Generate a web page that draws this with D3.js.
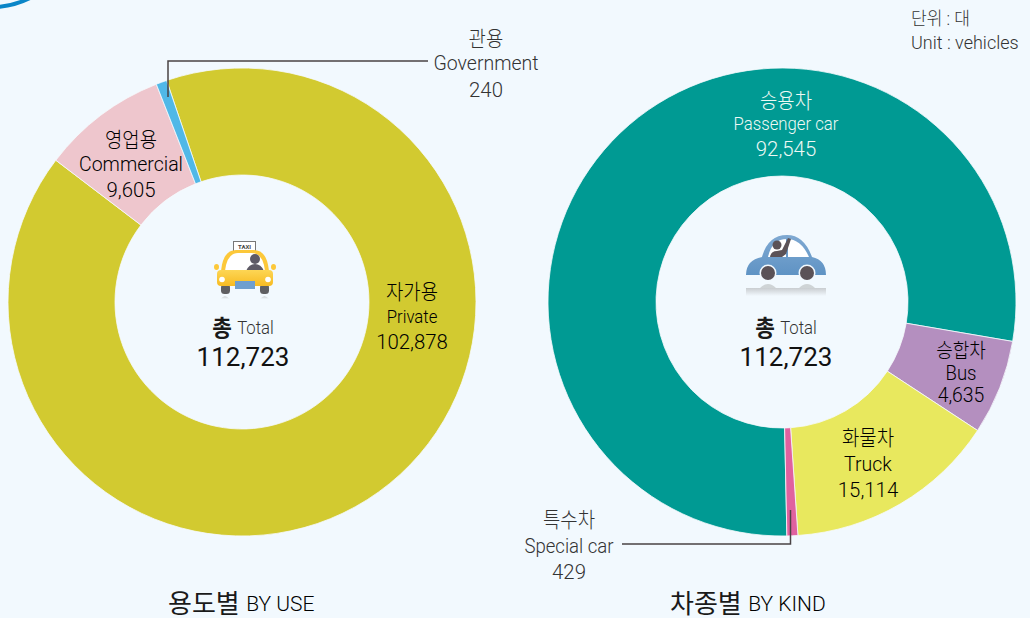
<!DOCTYPE html>
<html>
<head>
<meta charset="utf-8">
<script src="https://cdn.jsdelivr.net/npm/d3@7"></script>
<style>
  html, body { margin: 0; padding: 0; background: #f2f9fe; }
  text { font-family: "Roboto", "Noto Sans CJK KR", sans-serif; fill: #1a1a1a; }
</style>
</head>
<body>
<div id="chart"></div>
<script>
// Values printed on the chart, in clockwise slice order
const useKorean = ["자가용", "영업용", "관용"];
const useEnglish = ["Private", "Commercial", "Government"];
const useValues = [102878, 9605, 240];
const kindKorean = ["승용차", "승합차", "화물차", "특수차"];
const kindEnglish = ["Passenger car", "Bus", "Truck", "Special car"];
const kindValues = [92545, 4635, 15114, 429];
const totalValue = 112723;

// The reference does not draw its slices to scale, so the sweeps (degrees)
const useSweeps = [328.8, 31.5, 2.7];
const kindSweeps = [280.9, 23.6, 52.8, 2.7];

const useColors = ["#d2ca30", "#eec6cd", "#50b8e7"];
const kindColors = ["#009a93", "#b48fbf", "#e8e85e", "#e0619f"];

const width = 1030, height = 618;
const fmt = d3.format(",");

const svg = d3.select("#chart").append("svg")
    .attr("width", width)
    .attr("height", height)
    .style("display", "block");

const defs = svg.append("defs");
const taxiGrad = defs.append("linearGradient").attr("id", "taxiBody").attr("x1", 0).attr("x2", 0).attr("y1", 0).attr("y2", 1);
taxiGrad.append("stop").attr("offset", 0).attr("stop-color", "#fdd655");
taxiGrad.append("stop").attr("offset", 1).attr("stop-color", "#f7bb22");
const carGrad = defs.append("linearGradient").attr("id", "carBody").attr("x1", 0).attr("x2", 0).attr("y1", 0).attr("y2", 1);
carGrad.append("stop").attr("offset", 0).attr("stop-color", "#7fa9d2");
carGrad.append("stop").attr("offset", 1).attr("stop-color", "#5f93c4");
const shadowGrad = defs.append("linearGradient").attr("id", "shadow").attr("x1", 0).attr("x2", 0).attr("y1", 0).attr("y2", 1);
shadowGrad.append("stop").attr("offset", 0).attr("stop-color", "#c9cdd0");
shadowGrad.append("stop").attr("offset", 1).attr("stop-color", "#f2f9fe");

// Corner swoosh from the page design
svg.append("path")
    .attr("d", "M-4,7 Q14,6 30,-2")
    .attr("fill", "none")
    .attr("stroke", "#0a86c8")
    .attr("stroke-width", 4);

function drawDonut(cx, cy, inner, outer, startDeg, sweeps, colors) {
    const pie = d3.pie()
        .sort(null)
        .startAngle(startDeg * Math.PI / 180)
        .endAngle((startDeg + 360) * Math.PI / 180);
    const arc = d3.arc().innerRadius(inner).outerRadius(outer);
    svg.append("g")
        .attr("transform", `translate(${cx},${cy})`)
        .selectAll("path")
        .data(pie(sweeps))
        .enter()
        .append("path")
        .attr("d", arc)
        .attr("fill", (d, i) => colors[i])
        .attr("stroke", "#f6fafc")
        .attr("stroke-width", 0.8);
}

drawDonut(242, 302, 127, 234, -18.8, useSweeps, useColors);
drawDonut(782, 302, 126, 234, 99.7 - 280.9, kindSweeps, kindColors);

// Reference lettering is narrower than Roboto, so squeeze it horizontally
function label(x, y, str, size, weight, color, squeeze) {
    return svg.append("text")
        .attr("transform", `translate(${x},${y}) scale(${squeeze || 1},1)`)
        .attr("text-anchor", "middle")
        .attr("dominant-baseline", "central")
        .style("font-size", size + "px")
        .style("font-weight", weight || 400)
        .style("fill", color || "#1a1a1a")
        .text(str);
}

function threeLines(x, ys, kr, en, val, sizes, weight, color) {
    label(x, ys[0], kr, sizes[0], weight, color, 0.9);
    label(x, ys[1], en, sizes[1], weight, color, 0.93);
    label(x, ys[2], val, sizes[2], weight, color, 0.97);
}

const dark = "#000", soft = "#333", onTeal = "#eef9f5";

threeLines(412, [292, 317, 342], useKorean[0], useEnglish[0], fmt(useValues[0]), [21, 18, 21], 300, dark);
threeLines(131, [140, 164, 190], useKorean[1], useEnglish[1], fmt(useValues[1]), [21, 21, 21], 300, dark);
threeLines(486, [39, 63, 90], useKorean[2], useEnglish[2], fmt(useValues[2]), [21, 21, 21], 300, soft);

threeLines(786, [101, 124, 149], kindKorean[0], kindEnglish[0], fmt(kindValues[0]), [21, 18, 21], 300, onTeal);
threeLines(961, [351, 373, 395], kindKorean[1], kindEnglish[1], fmt(kindValues[1]), [20, 20, 20], 300, dark);
threeLines(868, [438, 464, 490], kindKorean[2], kindEnglish[2], fmt(kindValues[2]), [21, 21, 21], 300, dark);
threeLines(569, [520, 546, 572], kindKorean[3], kindEnglish[3], fmt(kindValues[3]), [21, 20, 21], 300, soft);

// Leader lines for the two thin slices
const leader = d3.line();
svg.append("path")
    .attr("d", leader([[428, 61], [168, 61], [168, 97]]))
    .attr("fill", "none")
    .attr("stroke", "#4a4344")
    .attr("stroke-width", 1.5);
svg.append("path")
    .attr("d", leader([[622, 544], [790.5, 544], [790.5, 510]]))
    .attr("fill", "none")
    .attr("stroke", "#4a4344")
    .attr("stroke-width", 1.5);

// Unit note
svg.append("text").attr("transform", "translate(911,19) scale(0.95,1)")
    .attr("dominant-baseline", "central")
    .style("font-size", "18px").style("font-weight", 300).style("fill", soft)
    .text("단위 : 대");
svg.append("text").attr("x", 911).attr("y", 42)
    .attr("dominant-baseline", "central")
    .style("font-size", "18px").style("font-weight", 300).style("fill", soft)
    .text("Unit : vehicles");

// Centre totals and titles
function centre(cx, title, titleEn, titleX) {
    const t = svg.append("text")
        .attr("transform", `translate(${cx},328) scale(0.93,1)`)
        .attr("text-anchor", "middle")
        .attr("dominant-baseline", "central");
    t.append("tspan").style("font-size", "23px").style("font-weight", 700).text("총 ");
    t.append("tspan").style("font-size", "18px").style("font-weight", 300).style("fill", soft).text("Total");
    label(cx, 357, fmt(totalValue), 26, 400, "#111");

    const b = svg.append("text")
        .attr("x", titleX).attr("y", 604)
        .attr("dominant-baseline", "central");
    b.append("tspan").style("font-size", "26px").style("font-weight", 400).text(title + " ");
    b.append("tspan").style("font-size", "21px").style("font-weight", 300).style("fill", "#000").text(titleEn);
}
centre(243, "용도별", "BY USE", 168);
centre(786, "차종별", "BY KIND", 670);

// Taxi icon
const taxi = svg.append("g").attr("transform", "translate(245,270)");
taxi.append("rect").attr("x", -11.5).attr("y", -28.5).attr("width", 22).attr("height", 10).attr("fill", "#fff").attr("stroke", "#777");
taxi.append("text").attr("x", -0.5).attr("y", -23.5).attr("text-anchor", "middle").attr("dominant-baseline", "central")
    .style("font-size", "6px").style("font-weight", 700).style("fill", "#444").text("TAXI");
taxi.append("ellipse").attr("cx", -28.5).attr("cy", -3).attr("rx", 2.5).attr("ry", 3).attr("fill", "#fcc83a");
taxi.append("ellipse").attr("cx", 28.5).attr("cy", -3).attr("rx", 2.5).attr("ry", 3).attr("fill", "#fcc83a");
taxi.append("path").attr("d", "M-24,1 Q-22,-20 -9,-20 L9,-20 Q22,-20 24,1 Z").attr("fill", "#fcc83a");
taxi.append("path").attr("d", "M-20,1 Q-18,-17 -7,-17 L7,-17 Q18,-17 20,1 Z").attr("fill", "#fff");
taxi.append("circle").attr("cx", 10).attr("cy", -11).attr("r", 5).attr("fill", "#5d5a66");
taxi.append("path").attr("d", "M1,1 Q4,-6 10,-6 Q16,-6 19,1 Z").attr("fill", "#5d5a66");
taxi.append("rect").attr("x", -24).attr("y", 14).attr("width", 9).attr("height", 10).attr("rx", 3.5).attr("fill", "#5f5f62");
taxi.append("rect").attr("x", 15).attr("y", 14).attr("width", 9).attr("height", 10).attr("rx", 3.5).attr("fill", "#5f5f62");
taxi.append("rect").attr("x", -28).attr("y", 0).attr("width", 56).attr("height", 16).attr("rx", 4).attr("fill", "url(#taxiBody)");
taxi.append("rect").attr("x", -10).attr("y", 11).attr("width", 20).attr("height", 8).attr("fill", "#6e9fcf");
taxi.append("circle").attr("cx", -23).attr("cy", 9.5).attr("r", 2.8).attr("fill", "#fff");
taxi.append("circle").attr("cx", 23).attr("cy", 9.5).attr("r", 2.8).attr("fill", "#fff");
[-20, 19.5].forEach(x => {
    taxi.append("path").attr("d", `M${x - 4.5},29 Q${x},23.5 ${x + 4.5},29 Z`).attr("fill", "url(#shadow)");
});

// Passenger car icon
const car = svg.append("g").attr("transform", "translate(786,275)");
car.append("path").attr("d", "M-40,0 Q-40,-15 -24,-18 Q-18,-40 1,-40 Q18,-40 26,-18 Q40,-15 40,0 Z").attr("fill", "url(#carBody)");
car.append("path").attr("d", "M-18,-18 Q-14,-36 1,-36 Q15,-36 23,-18 Z").attr("fill", "#fff");
car.append("rect").attr("x", 0).attr("y", -36).attr("width", 2).attr("height", 18).attr("fill", "#6a9bc9");
car.append("circle").attr("cx", -9).attr("cy", -30).attr("r", 4.5).attr("fill", "#5b5257");
car.append("path").attr("d", "M-16,-18 Q-15,-24 -9,-24 L-4,-25 L2,-37 L5,-36 L0,-21 L-4,-18 Z").attr("fill", "#5b5257");
[-18, 21].forEach(x => {
    car.append("circle").attr("cx", x).attr("cy", -2).attr("r", 8.5).attr("fill", "#f2f9fe");
    car.append("circle").attr("cx", x).attr("cy", -2).attr("r", 7).attr("fill", "#5b5257");
});
car.append("rect").attr("x", -40).attr("y", 13).attr("width", 80).attr("height", 8).attr("fill", "url(#shadow)");
[-18, 21].forEach(x => {
    car.append("path").attr("d", `M${x - 8},13 Q${x},5 ${x + 8},13 Z`).attr("fill", "#cfd4d6");
});
</script>
</body>
</html>
